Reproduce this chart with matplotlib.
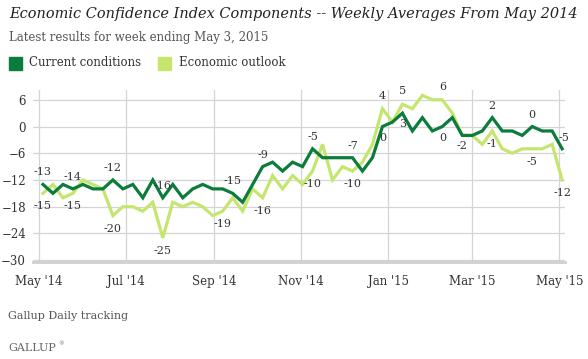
import matplotlib
matplotlib.use("Agg")
import matplotlib.pyplot as plt
import matplotlib.dates as mdates
import pandas as pd

# weekly averages, week ending May 4 2014 .. May 3 2015
weeks = pd.date_range("2014-05-04", periods=53, freq="7D")
current = [-13, -15, -13, -14, -13, -14, -14, -12, -14, -13,
           -16, -12, -16, -13, -16, -14, -13, -14, -14, -15,
           -17, -13, -9, -8, -10, -8, -9, -5, -7, -7,
           -7, -7, -10, -7, 0, 1, 3, -1, 2, -1,
           0, 2, -2, -2, -1, 2, -1, -1, -2, 0,
           -1, -1, -5]
outlook = [-15, -13, -16, -15, -12, -13, -14, -20, -18, -18,
           -19, -17, -25, -17, -18, -17, -18, -20, -19, -16,
           -19, -14, -16, -11, -14, -11, -13, -10, -4, -12,
           -9, -10, -8, -4, 4, 1, 5, 4, 7, 6,
           6, 3, -2, -2, -4, -1, -5, -6, -5, -5,
           -5, -4, -12]

# which points get a value label, and on which side
current_up = [0, 3, 7, 12, 19, 22, 27, 31, 45, 49]
current_down = [34, 36, 40, 42]
outlook_up = [34, 36, 40]
outlook_down = [0, 3, 7, 12, 18, 22, 27, 31, 45, 49, 52]

dark = "#0b7c3c"
light = "#c5e66e"
txt = "#333333"
grid = "#d4d4d4"
serif = "DejaVu Serif"

fig = plt.figure(figsize=(5.88, 3.59), dpi=100)
ax = fig.add_axes([33 / 588, 1 - 261.5 / 359, 532 / 588, 171.5 / 359])

ax.plot(weeks, outlook, color=light, lw=2.3, solid_joinstyle="miter", zorder=3)
ax.plot(weeks, current, color=dark, lw=2.3, solid_joinstyle="miter", zorder=4)

def label(series, idx, dy):
    for i in idx:
        ax.annotate(str(series[i]), (weeks[i], series[i]), xytext=(0, dy),
                    textcoords="offset pixels", ha="center", va="center",
                    fontsize=8, color=txt, family=serif, zorder=5)

label(current, current_up, 12)
label(current, current_down, -11)
label(outlook, outlook_up, 13)
label(outlook, outlook_down, -13)
ax.annotate(str(current[-1]), (weeks[-1], current[-1]), xytext=(2, 11),
            textcoords="offset pixels", ha="center", va="center",
            fontsize=8, color=txt, family=serif, zorder=5)

ax.set_ylim(-30.3, 8.2)
ax.set_xlim(pd.Timestamp("2014-04-27"), pd.Timestamp("2015-05-05"))
ax.set_yticks([6, 0, -6, -12, -18, -24, -30])
ticks = pd.date_range("2014-05-01", "2015-05-01", freq="2MS")
ax.set_xticks(ticks)
ax.xaxis.set_major_formatter(mdates.DateFormatter("%b '%y"))
ax.grid(True, color=grid, lw=0.9)
ax.set_axisbelow(True)
for s in ["top", "right", "left"]:
    ax.spines[s].set_visible(False)
ax.spines["bottom"].set_color("#cfcfcf")
ax.spines["bottom"].set_linewidth(2)
ax.tick_params(length=0, labelsize=8.5, labelcolor=txt)
ax.tick_params(axis="x", pad=10)
ax.tick_params(axis="y", pad=5)
for t in ax.get_xticklabels() + ax.get_yticklabels():
    t.set_family(serif)

fig.text(9 / 588, 1 - 14 / 359, "Economic Confidence Index Components -- Weekly Averages From May 2014",
         fontsize=10.45, style="italic", family=serif, color="#222222", va="center")
fig.text(9 / 588, 1 - 38 / 359, "Latest results for week ending May 3, 2015",
         fontsize=8.5, family=serif, color="#555555", va="center")

# legend boxes
fig.patches.append(plt.Rectangle((9 / 588, 1 - 70 / 359), 13 / 588, 13 / 359,
                                 transform=fig.transFigure, color=dark))
fig.text(29 / 588, 1 - 63 / 359, "Current conditions", fontsize=8.5,
         family=serif, color=txt, va="center")
fig.patches.append(plt.Rectangle((158 / 588, 1 - 70 / 359), 13 / 588, 13 / 359,
                                 transform=fig.transFigure, color=light))
fig.text(179 / 588, 1 - 63 / 359, "Economic outlook", fontsize=8.5,
         family=serif, color=txt, va="center")

fig.text(8 / 588, 1 - 316 / 359, "Gallup Daily tracking", fontsize=8,
         family=serif, color="#555555", va="center")
fig.text(8 / 588, 1 - 348 / 359, "GALLUP", fontsize=8, family=serif,
         color="#666666", va="center")
fig.text(58 / 588, 1 - 344 / 359, "\u00ae", fontsize=4, family=serif,
         color="#666666", va="center")

fig.savefig("out.png", dpi=100)
